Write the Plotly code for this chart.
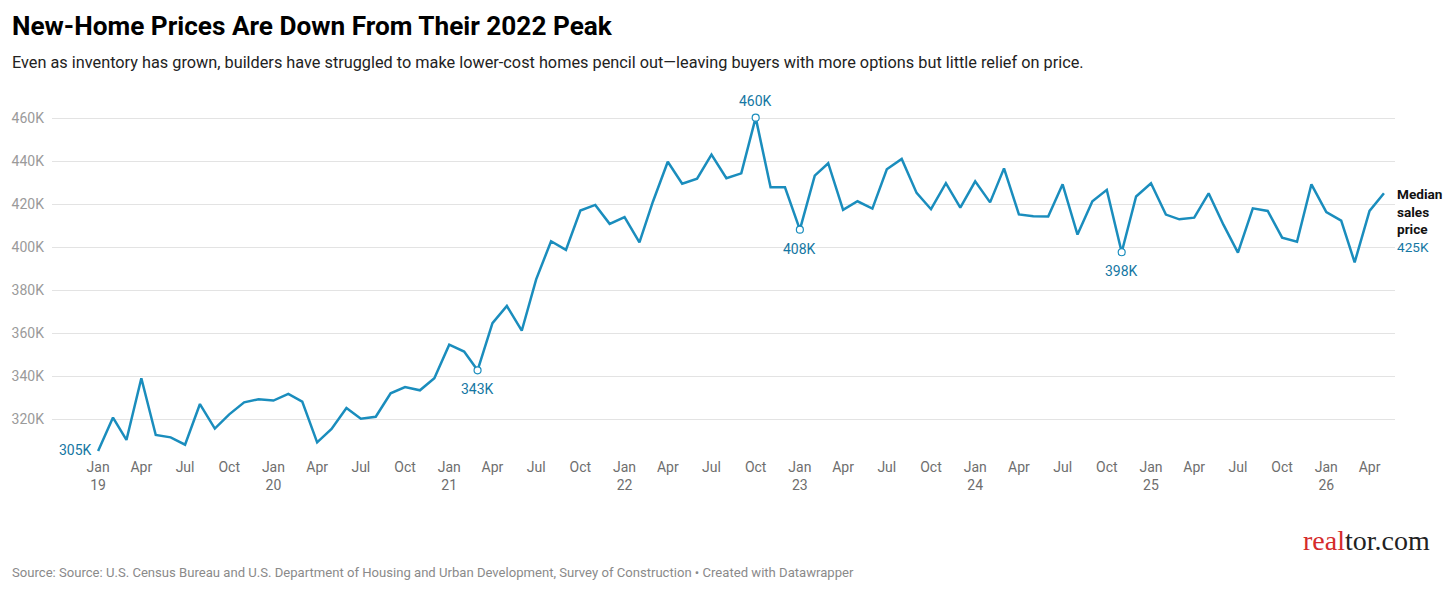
import plotly.graph_objects as go
import pandas as pd

# ---- data (median new-home sales price, $K) ----
prices = [
    # 2019
    305.3, 320.8, 310.4, 339.1, 312.7, 311.6, 308.2, 327.1, 315.7, 322.3, 327.9, 329.3,
    # 2020
    328.7, 331.8, 328.2, 309.3, 315.5, 325.3, 320.3, 321.2, 332.1, 335.0, 333.5, 339.1,
    # 2021
    354.7, 351.5, 342.8, 364.7, 372.7, 361.2, 385.1, 402.8, 398.8, 417.1, 419.7, 410.9,
    # 2022
    414.0, 402.3, 421.2, 439.8, 429.6, 431.9, 443.1, 432.1, 434.4, 460.3, 427.9, 427.9,
    # 2023
    408.2, 433.3, 439.1, 417.4, 421.4, 418.0, 436.3, 441.1, 425.3, 417.7, 429.8, 418.4,
    # 2024
    430.7, 420.9, 436.7, 415.3, 414.4, 414.3, 429.3, 405.9, 421.4, 426.7, 397.7, 423.6,
    # 2025
    429.8, 415.2, 413.0, 413.8, 425.1, 410.4, 397.5, 418.1, 416.9, 404.5, 402.6, 429.3,
    # 2026
    416.4, 412.4, 393.0, 416.9, 425.1,
]
dates = pd.date_range("2019-01-01", periods=len(prices), freq="MS")

y_tickvals = [320, 340, 360, 380, 400, 420, 440, 460]
y_ticktext = ["320K", "340K", "360K", "380K", "400K", "420K", "440K", "460K"]

x_tickvals = pd.date_range("2019-01-01", "2026-04-01", freq="3MS")
month_abbr = {1: "Jan", 4: "Apr", 7: "Jul", 10: "Oct"}
x_ticktext = [f"Jan<br>{d.year % 100:02d}" if d.month == 1 else month_abbr[d.month] for d in x_tickvals]

# highlighted points: (date, value, label, position)
highlights = [
    ("2021-03-01", 342.8, "343K", "below"),
    ("2022-10-01", 460.3, "460K", "above"),
    ("2023-01-01", 408.2, "408K", "below"),
    ("2024-11-01", 397.7, "398K", "below"),
]
start_label = "305K"
series_name = "Median<br>sales<br>price"
last_label = "425K"

title = "New-Home Prices Are Down From Their 2022 Peak"
subtitle = ("Even as inventory has grown, builders have struggled to make lower-cost homes pencil out\u2014"
            "leaving buyers with more options but little relief on price.")
source = ("Source: Source: U.S. Census Bureau and U.S. Department of Housing and Urban Development, "
          "Survey of Construction \u2022 Created with Datawrapper")

LINE = "#1a8dbd"
LABEL = "#1577a3"
FONT = "Roboto"

W, H = 1456, 592
ML, MR, MT, MB = 52, 61, 100, 137
PW, PH = W - ML - MR, H - MT - MB


def px(x):
    return (x - ML) / PW


def py(y):
    return (H - MB - y) / PH


fig = go.Figure()
fig.add_trace(go.Scatter(
    x=dates, y=prices, mode="lines",
    line=dict(color=LINE, width=2.5),
    hoverinfo="x+y", showlegend=False,
))
fig.add_trace(go.Scatter(
    x=[h[0] for h in highlights], y=[h[1] for h in highlights], mode="markers",
    marker=dict(size=7, color="white", line=dict(color=LINE, width=1.2)),
    hoverinfo="skip", showlegend=False,
))

annotations = []
for d, v, lab, pos in highlights:
    annotations.append(dict(
        x=d, y=v, xref="x", yref="y", text=lab, showarrow=False,
        font=dict(family=FONT, size=14, color=LABEL),
        yanchor="bottom" if pos == "above" else "top",
        yshift=7 if pos == "above" else -9,
    ))
annotations.append(dict(
    x=dates[0], y=prices[0], xref="x", yref="y", text=start_label, showarrow=False,
    font=dict(family=FONT, size=14, color=LABEL), xanchor="right", yanchor="middle",
    xshift=-4, yshift=1,
))
annotations.append(dict(
    x=1, y=py(184), xref="paper", yref="paper", xanchor="left", yanchor="top", align="left",
    xshift=0, showarrow=False,
    text=f"<b>{series_name}</b><br><span style='color:{LABEL}'>{last_label}</span>",
    font=dict(family=FONT, size=13.6, color="#111111"),
))
annotations.append(dict(
    x=px(10), y=py(26), xref="paper", yref="paper", xanchor="left", yanchor="middle",
    showarrow=False, text=f"<b>{title}</b>",
    font=dict(family=FONT, size=26.2, color="#000000"),
))
annotations.append(dict(
    x=px(10), y=py(63), xref="paper", yref="paper", xanchor="left", yanchor="middle",
    showarrow=False, text=subtitle,
    font=dict(family=FONT, size=16.3, color="#222222"),
))
annotations.append(dict(
    x=px(10), y=py(572), xref="paper", yref="paper", xanchor="left", yanchor="middle",
    showarrow=False, text=source,
    font=dict(family=FONT, size=13.1, color="#8a8a8a"),
))
annotations.append(dict(
    x=px(1432), y=py(540), xref="paper", yref="paper", xanchor="right", yanchor="middle",
    showarrow=False,
    text="<span style='color:#d52b2b'>real</span><span style='color:#222222'>tor.com</span>",
    font=dict(family="Liberation Serif", size=28),
))

fig.update_layout(
    width=W, height=H,
    margin=dict(l=ML, r=MR, t=MT, b=MB),
    paper_bgcolor="white", plot_bgcolor="white",
    font=dict(family=FONT),
    annotations=annotations,
    xaxis=dict(
        range=["2018-09-27", "2026-05-24"],
        tickvals=x_tickvals, ticktext=x_ticktext,
        showgrid=False, zeroline=False, showline=False, ticks="",
        ticklabelstandoff=2,
        tickfont=dict(family=FONT, size=14, color="#6e6e6e"),
    ),
    yaxis=dict(
        range=[303.4, 468.5],
        tickvals=y_tickvals, ticktext=y_ticktext,
        showgrid=True, gridcolor="#e3e3e3", gridwidth=1,
        zeroline=False, showline=False, ticks="",
        ticklabelstandoff=7,
        tickfont=dict(family=FONT, size=14, color="#9a9a9a"),
    ),
)

fig.write_html("out.html", config={"displayModeBar": False},
               post_script="document.body.style.margin='0px';")
